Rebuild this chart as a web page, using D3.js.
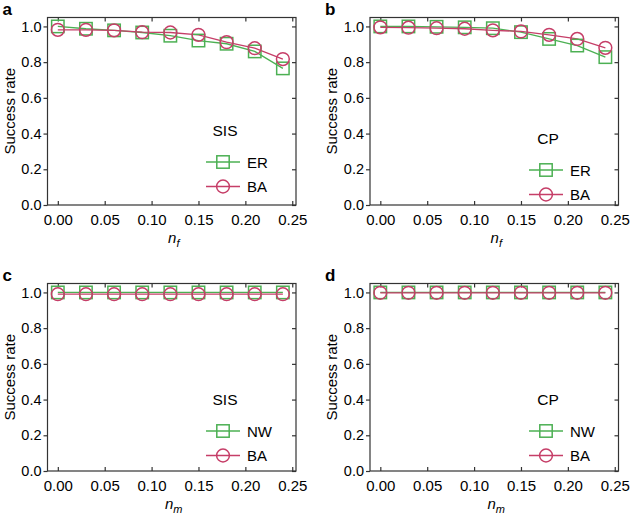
<!DOCTYPE html>
<html>
<head>
<meta charset="utf-8">
<title>Success rate</title>
<style>
  body { margin: 0; padding: 0; background: #fff; }
  svg { display: block; font-family: "Liberation Sans", Arial, sans-serif; }
  .frame { fill: none; stroke: #333; stroke-width: 1.2px; }
  .tick line { stroke: #333; stroke-width: 1.2px; }
  .tick text { font-size: 15px; fill: #000; }
  .ytick .tick text { font-size: 14.5px; }
</style>
</head>
<body>
<div id="chart"></div>
<script src="https://d3js.org/d3.v7.min.js"></script>
<script>
// x positions (noise fraction n_f / n_m)
const xValues = [0, 0.03, 0.06, 0.09, 0.12, 0.15, 0.18, 0.21, 0.24];
const xTicks = [0, 0.05, 0.10, 0.15, 0.20, 0.25];
const yTicks = [0, 0.2, 0.4, 0.6, 0.8, 1.0];

// panel a: SIS, n_f
const sisER = [1.0, 0.987, 0.978, 0.966, 0.948, 0.921, 0.903, 0.86, 0.765];
const sisBA = [0.981, 0.981, 0.978, 0.968, 0.966, 0.953, 0.912, 0.878, 0.817];
// panel b: CP, n_f
const cpER = [1.0, 1.0, 0.998, 0.995, 0.99, 0.968, 0.93, 0.893, 0.828];
const cpBA = [0.995, 0.993, 0.99, 0.987, 0.978, 0.972, 0.953, 0.93, 0.88];
// panel c: SIS, n_m
const sisNW = [1.0, 1.0, 1.0, 1.0, 1.0, 1.0, 1.0, 1.0, 1.0];
const sisBAm = [0.99, 0.99, 0.99, 0.99, 0.99, 0.99, 0.99, 0.99, 0.99];
// panel d: CP, n_m
const cpNW = [1.0, 1.0, 1.0, 1.0, 1.0, 1.0, 1.0, 1.0, 1.0];
const cpBAm = [0.998, 0.998, 0.998, 0.998, 0.998, 0.998, 0.998, 0.998, 0.998];

const green = "#4cb053";
const red = "#c63e68";

const panels = [
  { letter: "a", left: 47.5, top: 17.5, model: "SIS", sub: "f", names: ["ER", "BA"], series: [sisER, sisBA], lx: 223, ly: 130 },
  { letter: "b", left: 370, top: 17.5, model: "CP", sub: "f", names: ["ER", "BA"], series: [cpER, cpBA], lx: 546, ly: 138 },
  { letter: "c", left: 47.5, top: 283.5, model: "SIS", sub: "m", names: ["NW", "BA"], series: [sisNW, sisBAm], lx: 223, ly: 399 },
  { letter: "d", left: 370, top: 283.5, model: "CP", sub: "m", names: ["NW", "BA"], series: [cpNW, cpBAm], lx: 546, ly: 399 }
];

const width = 630, height = 515;
const pw = 248.5, ph = 187.5;

const svg = d3.select("#chart").append("svg")
  .attr("width", width)
  .attr("height", height);

function marker(g, kind, color, cx, cy) {
  if (kind === 0) {
    g.append("rect")
      .attr("x", cx - 6.2).attr("y", cy - 6.2)
      .attr("width", 12.4).attr("height", 12.4)
      .attr("fill", "none").attr("stroke", color).attr("stroke-width", 1.5);
  } else {
    g.append("circle")
      .attr("cx", cx).attr("cy", cy).attr("r", 6.4)
      .attr("fill", "none").attr("stroke", color).attr("stroke-width", 1.5);
  }
}

panels.forEach(p => {
  const x = d3.scaleLinear().domain([-0.011, 0.254]).range([p.left, p.left + pw]);
  const y = d3.scaleLinear().domain([0, 1.05]).range([p.top + ph, p.top]);
  const g = svg.append("g");

  // axes: left ticks outward, the rest inward
  g.append("g").attr("transform", `translate(0,${p.top + ph})`)
    .call(d3.axisBottom(x).tickValues(xTicks).tickSizeInner(-4).tickSizeOuter(0).tickPadding(9).tickFormat(d3.format(".2f")))
    .call(a => a.select(".domain").remove());
  g.append("g").attr("transform", `translate(0,${p.top})`)
    .call(d3.axisTop(x).tickValues(xTicks).tickSizeInner(-4).tickSizeOuter(0).tickFormat(""))
    .call(a => a.select(".domain").remove());
  g.append("g").attr("class", "ytick").attr("transform", `translate(${p.left},0)`)
    .call(d3.axisLeft(y).tickValues(yTicks).tickSizeInner(4).tickSizeOuter(0).tickPadding(2).tickFormat(d3.format(".1f")))
    .call(a => a.select(".domain").remove());
  g.append("g").attr("transform", `translate(${p.left + pw},0)`)
    .call(d3.axisRight(y).tickValues(yTicks).tickSizeInner(-4).tickSizeOuter(0).tickFormat(""))
    .call(a => a.select(".domain").remove());
  g.selectAll(".tick text").attr("font-family", null).attr("font-size", null);

  g.append("rect").attr("class", "frame")
    .attr("x", p.left).attr("y", p.top).attr("width", pw).attr("height", ph);

  // series lines and markers
  const line = d3.line().x((d, i) => x(xValues[i])).y(d => y(d));
  const colors = [green, red];
  p.series.forEach((s, k) => {
    g.append("path").datum(s)
      .attr("d", line)
      .attr("fill", "none").attr("stroke", colors[k]).attr("stroke-width", 1.3);
  });
  p.series.forEach((s, k) => {
    s.forEach((v, i) => marker(g, k, colors[k], x(xValues[i]), y(v)));
  });

  // legend
  g.append("text").attr("x", p.lx + 2).attr("y", p.ly + 5.5)
    .attr("text-anchor", "middle").attr("font-size", 15.5).attr("fill", "#000").text(p.model);
  p.names.forEach((name, k) => {
    const ly = p.ly + 32 + k * 24.5;
    g.append("line").attr("x1", p.lx - 17).attr("x2", p.lx + 17)
      .attr("y1", ly).attr("y2", ly).attr("stroke", colors[k]).attr("stroke-width", 1.3);
    marker(g, k, colors[k], p.lx, ly);
    g.append("text").attr("x", p.lx + 24).attr("y", ly + 5.5)
      .attr("font-size", 15).attr("fill", "#000").text(name);
  });

  // axis titles
  const xl = g.append("text")
    .attr("x", p.left + pw / 2 + 2).attr("y", p.top + ph + 38)
    .attr("text-anchor", "middle").attr("font-size", 15).attr("fill", "#000");
  xl.append("tspan").attr("font-style", "italic").text("n");
  xl.append("tspan").attr("font-style", "italic").attr("font-size", 11).attr("dy", 4).text(p.sub);

  g.append("text")
    .attr("transform", `translate(${p.left - 33},${p.top + ph / 2}) rotate(-90)`)
    .attr("text-anchor", "middle").attr("font-size", 15).attr("fill", "#000")
    .text("Success rate");

  // panel letter
  g.append("text").attr("x", p.left - 45).attr("y", p.top - 3)
    .attr("font-size", 17).attr("font-weight", "bold").attr("fill", "#000").text(p.letter);
});
</script>
</body>
</html>
